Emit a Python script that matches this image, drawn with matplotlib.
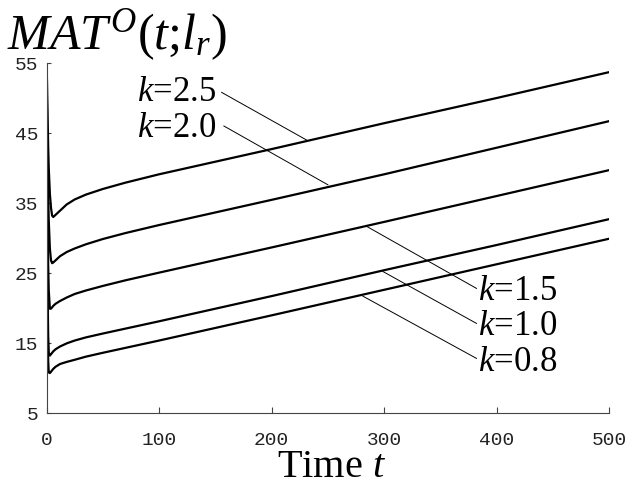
import matplotlib
matplotlib.use("Agg")
import matplotlib.pyplot as plt

plt.rcParams['font.family'] = ['Liberation Serif', 'DejaVu Serif']
plt.rcParams['mathtext.fontset'] = 'custom'
plt.rcParams['mathtext.rm'] = 'Liberation Serif'
plt.rcParams['mathtext.it'] = 'Liberation Serif:italic'

# sample times
t = [0, 0.5, 1, 1.5, 2, 3, 4, 5, 6, 8, 12, 18, 25, 35, 50, 70, 100, 150, 200, 300, 400, 500]

mat_k25 = [55, 52, 47, 43, 40, 36.3, 34.3, 33.2, 33.0, 33.3, 33.9, 34.8, 35.5, 36.2, 37.0, 37.9,
           39.1, 40.9, 42.7, 46.4, 50.0, 53.7]
mat_k20 = [55, 48, 41, 36, 32.5, 28.5, 26.8, 26.4, 26.5, 26.8, 27.4, 28.0, 28.5, 29.1, 29.85, 30.7,
           31.85, 33.65, 35.45, 39.1, 42.9, 46.7]
mat_k15 = [55, 42, 32, 26, 22.5, 19.9, 19.9, 20.1, 20.3, 20.6, 21.0, 21.5, 22.0, 22.5, 23.15, 23.95,
           25.05, 26.85, 28.65, 32.3, 36.0, 39.7]
mat_k10 = [55, 34, 22, 16, 13.6, 13.2, 13.4, 13.6, 13.8, 14.1, 14.5, 14.95, 15.35, 15.8, 16.35, 17.05,
           18.1, 19.9, 21.7, 25.4, 29.0, 32.7]
mat_k08 = [55, 30, 18, 12.5, 10.8, 10.7, 10.9, 11.1, 11.3, 11.6, 12.0, 12.3, 12.6, 13.05, 13.6, 14.3,
           15.35, 17.15, 18.95, 22.6, 26.25, 29.9]

labels = ['$k$=2.5', '$k$=2.0', '$k$=1.5', '$k$=1.0', '$k$=0.8']
series = [mat_k25, mat_k20, mat_k15, mat_k10, mat_k08]

# label leader lines: (t on curve, value on curve, t at text, value at text)
leader_curve_t = [231, 250, 284, 299, 281]
leader_curve_v = [44.0, 37.6, 31.7, 25.2, 21.7]
leader_text_t = [155.6, 157.6, 382, 382, 382]
leader_text_v = [50.8, 46.0, 22.8, 17.8, 12.8]

xticks = [0, 100, 200, 300, 400, 500]
yticks = [5, 15, 25, 35, 45, 55]

fig = plt.figure(figsize=(6.27, 4.84), dpi=100)
ax = fig.add_axes([46.5 / 627, 71 / 484, (609.3 - 46.5) / 627, 350 / 484])

for vals in series:
    ax.plot(t, vals, color='black', lw=1.6, solid_joinstyle='round')

for i in range(len(labels)):
    ax.plot([leader_curve_t[i], leader_text_t[i]], [leader_curve_v[i], leader_text_v[i]],
            color='black', lw=0.7)

# label text
ax.text(151, 49.6, labels[0], fontsize=25, ha='right', va='baseline')
ax.text(151, 44.4, labels[1], fontsize=25, ha='right', va='baseline')
ax.text(383.5, 21.2, labels[2], fontsize=25, ha='left', va='baseline')
ax.text(383.5, 16.1, labels[3], fontsize=25, ha='left', va='baseline')
ax.text(383.5, 11.0, labels[4], fontsize=25, ha='left', va='baseline')

ax.set_xlim(0, 500)
ax.set_ylim(5, 55)
ax.set_xticks(xticks)
ax.set_yticks(yticks)
ax.set_xticklabels([str(v) for v in xticks], family='Liberation Mono', fontsize=14)
ax.set_yticklabels([str(v) for v in yticks], family='Liberation Mono', fontsize=14)
ax.tick_params(axis='x', direction='in', length=4, width=0.8, pad=14, colors='#444')
ax.tick_params(axis='y', direction='in', length=3, width=0.8, pad=6, colors='#444')
for lab in ax.get_xticklabels() + ax.get_yticklabels():
    lab.set_color('#222')

ax.spines['top'].set_visible(False)
ax.spines['right'].set_visible(False)
ax.spines['left'].set_color('#444')
ax.spines['bottom'].set_color('#444')
ax.spines['left'].set_linewidth(0.8)
ax.spines['bottom'].set_linewidth(0.8)

fig.text(7 / 627, 1 - 49 / 484, r'$MAT^{O}$($t$;$l_r$)', fontsize=36, ha='left', va='baseline')
fig.text(331 / 627, 1 - 477 / 484, r'Time $t$', fontsize=29, ha='center', va='baseline')

fig.savefig('out.png', dpi=100)
